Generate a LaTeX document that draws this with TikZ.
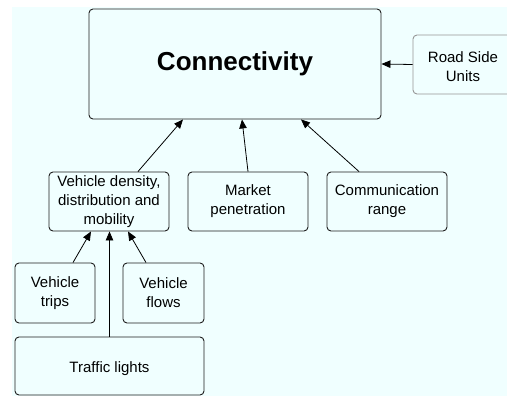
\documentclass[tikz,border=0pt]{standalone}
\usepackage{fontspec}
\setmainfont{Liberation Sans}
\usetikzlibrary{arrows.meta,calc}
\definecolor{bgcyan}{RGB}{240,255,255}
\definecolor{boxline}{RGB}{30,30,30}
\definecolor{greyline}{RGB}{150,150,150}
\tikzset{
  box/.style={draw=boxline, line width=0.9pt, rounded corners=4pt, fill=bgcyan,
    align=center, inner sep=0pt, font=\fontsize{15}{19}\selectfont},
  conn/.style={draw=black, line width=0.8pt, -{Triangle[length=9pt,width=7.5pt]}},
}
\begin{document}
\begin{tikzpicture}[x=1pt,y=-1pt]
\useasboundingbox (0,0) rectangle (507,396);
\fill[bgcyan] (12,7) rectangle (507,396);
\begin{scope}
\clip (0,0) rectangle (507,396);
\node[box, minimum width=292pt, minimum height=110pt, font=\fontsize{26}{30}\selectfont\bfseries] (con) at (235,64) {Connectivity};
\node[box, draw=greyline, minimum width=100pt, minimum height=59pt] (rsu) at (463,64.5) {\rule{0pt}{15pt}Road Side\\Units};
\node[box, minimum width=120pt, minimum height=59pt] (vd) at (109,201.5) {Vehicle density,\\distribution and\\mobility};
\node[box, minimum width=120pt, minimum height=59pt] (mp) at (248,201.5) {Market\\penetration};
\node[box, minimum width=120pt, minimum height=59pt] (cr) at (387,201.5) {Communication\\range};
\node[box, minimum width=80pt, minimum height=60pt] (vt) at (55,293) {Vehicle\\trips};
\node[box, minimum width=81pt, minimum height=60pt] (vf) at (163.5,293) {Vehicle\\flows};
\node[box, minimum width=189pt, minimum height=58pt] (tl) at (109.5,366) {\rule{0pt}{16pt}Traffic lights};
\end{scope}
\draw[conn] (rsu.west) -- (con.east);
\draw[conn] ([xshift=29pt]vd.north) -- ([xshift=-52pt]con.south);
\draw[conn] (mp.north) -- ([xshift=7pt]con.south);
\draw[conn] ([xshift=-28pt]cr.north) -- ([xshift=66pt]con.south);
\draw[conn] ([xshift=18pt]vt.north) -- ([xshift=-18pt]vd.south);
\draw[conn] (tl.north) -- (tl.north |- vd.south);
\draw[conn] ([xshift=-17.5pt]vf.north) -- ([xshift=19pt]vd.south);
\end{tikzpicture}
\end{document}
